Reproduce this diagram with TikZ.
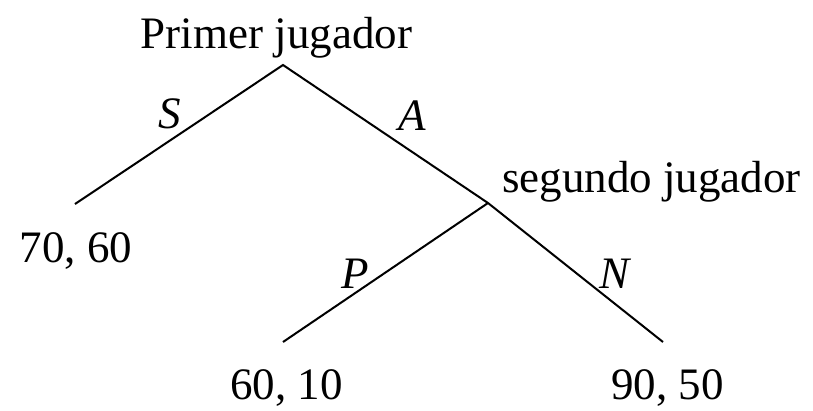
\documentclass[tikz,border=0pt]{standalone}
\usepackage{fontspec}
\setmainfont{Liberation Serif}
\begin{document}
\begin{tikzpicture}[x=1pt,y=-1pt,
  lbl/.style={inner sep=0pt,anchor=base,font=\fontsize{45}{50}\selectfont},
  mv/.style={lbl,font=\fontsize{45}{50}\selectfont\itshape},
  edge/.style={line width=2pt,black}]
\useasboundingbox (0,0) rectangle (813,410);
\coordinate (root) at (283,65);
\coordinate (n2) at (488,203);
\coordinate (l1) at (75,204);
\coordinate (l2) at (283,342);
\coordinate (l3) at (663,342);
\draw[edge] (l1) -- (root) -- (n2) -- (l3);
\draw[edge] (n2) -- (l2);
\node[lbl] (t1) at (276.5,48) {Primer jugador};
\node[lbl] (t2) at (651.5,192) {segundo jugador};
\node[mv] (s) at (169.5,128) {S};
\node[mv] (a) at (412,130) {A};
\node[mv] (p) at (355,288) {P};
\node[mv] (n) at (614,288) {N};
\node[lbl] (o1) at (76,262) {70, 60};
\node[lbl] (o2) at (286.5,399) {60, 10};
\node[lbl] (o3) at (667.5,399) {90, 50};
\end{tikzpicture}
\end{document}
